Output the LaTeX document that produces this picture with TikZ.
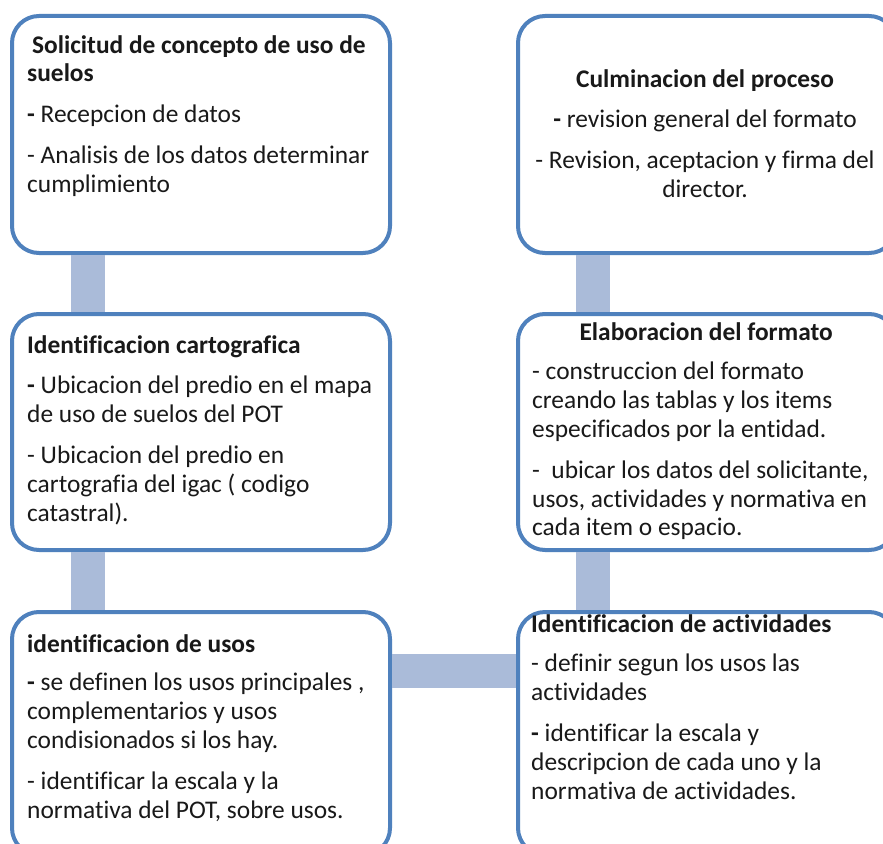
\documentclass[tikz,border=0pt]{standalone}
\usepackage{fontspec}
\setmainfont[Ligatures=NoCommon]{Carlito}
\definecolor{boxline}{HTML}{4F81BD}
\definecolor{barfill}{HTML}{AABBD9}
\tikzset{
  stepbox/.style={draw=boxline, line width=4pt, fill=white, rounded corners=27pt,
    minimum width=378pt, inner sep=0pt},
  txt/.style={inner sep=0pt, font=\fontsize{25.4}{28.8}\selectfont, text=black!90},
  bar/.style={draw=barfill, line width=34pt}
}
\begin{document}
\begin{tikzpicture}[x=1pt,y=-1pt]
\useasboundingbox (0,0) rectangle (883,843);
\clip (0,0) rectangle (883,843);
\fill[white] (0,0) rectangle (883,843);
% boxes
\node[stepbox, minimum height=237pt] (tl) at (201,134.5) {};
\node[stepbox, minimum height=237pt] (tr) at (707,134.5) {};
\node[stepbox, minimum height=236pt] (ml) at (201,432) {};
\node[stepbox, minimum height=236pt] (mr) at (707,432) {};
\node[stepbox, minimum height=243pt] (bl) at (201,733.5) {};
\node[stepbox, minimum height=243pt] (br) at (707,733.5) {};
% connectors
\coordinate (lb) at (88,0);
\coordinate (rb) at (592.5,0);
\coordinate (hb) at (0,670.5);
\draw[bar] (tl.south -| lb) -- (ml.north -| lb);
\draw[bar] (ml.south -| lb) -- (bl.north -| lb);
\draw[bar] (tr.south -| rb) -- (mr.north -| rb);
\draw[bar] (mr.south -| rb) -- (br.north -| rb);
\draw[bar] (bl.east |- hb) -- (br.west |- hb);
% texts
\node[txt, anchor=base west] (tlt) at (27,53) {\parbox[t]{365pt}{\raggedright
\textbf{\hspace*{5pt}Solicitud de concepto de uso de\\suelos}\\[12pt]
\textbf{-} Recepcion de datos\\[12pt]
- Analisis de los datos determinar\\cumplimiento}};
\node[txt, anchor=base] (trt) at (705,87) {\parbox[t]{365pt}{\centering
\textbf{Culminacion\ del proceso}\\[12pt]
\textbf{-} revision general del formato\\[12pt]
- Revision, aceptacion y firma del\\director.}};
\node[txt, anchor=base west] (mlt) at (27,353) {\parbox[t]{365pt}{\raggedright
\textbf{Identificacion cartografica}\\[12pt]
\textbf{-} Ubicacion del predio en el mapa\\de uso de suelos del POT\\[12pt]
- Ubicacion del predio en\\cartografia del igac ( codigo\\catastral).}};
\node[txt, anchor=base west] (mrt) at (532,340) {\parbox[t]{348pt}{\raggedright
\makebox[\linewidth]{\textbf{Elaboracion\ del formato}}\\[11pt]
- construccion del formato\\creando las tablas y los items\\especificados por la entidad.\\[12pt]
-\ \ ubicar los datos del solicitante,\\usos, actividades y normativa en\\cada item o espacio.}};
\node[txt, anchor=base west] (blt) at (27,652) {\parbox[t]{365pt}{\raggedright
\textbf{identificacion de usos}\\[10pt]
\textbf{-} se definen\ los usos principales ,\\complementarios y usos\\condisionados si los hay.\\[12pt]
- identificar la escala y la\\normativa del POT, sobre usos.}};
\node[txt, anchor=base west] (brt) at (531,632) {\parbox[t]{350pt}{\raggedright
\textbf{Identificacion de actividades}\\[11pt]
- definir segun los usos las\\actividades\\[12pt]
\textbf{-} identificar la escala y\\descripcion de cada uno y la\\normativa de actividades.}};
\end{tikzpicture}
\end{document}
